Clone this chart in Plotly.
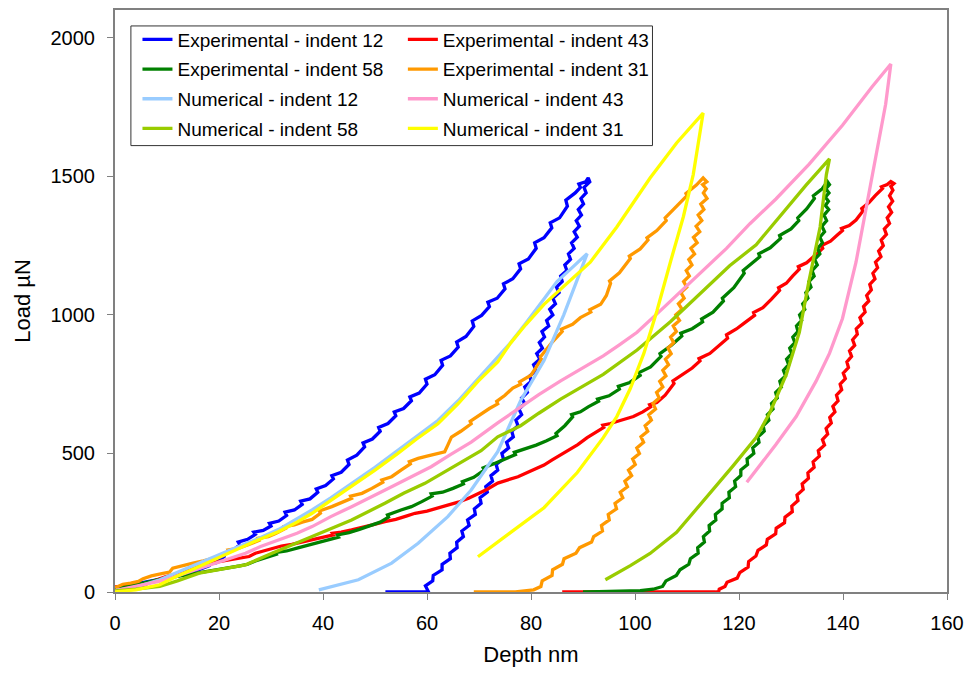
import plotly.graph_objects as go

# ---- Experimental load-depth curves (loading branch followed by unloading branch) ----
exp12_depth = [0, 2, 4, 6, 8, 10, 12, 13.7, 13.5, 16, 18, 17.8, 19.5, 21, 20.8, 22.5, 24, 23.7, 25.5, 27, 26.7, 28.5,
               30, 29.7, 31.5, 33, 32.7, 34.5, 36, 35.7, 37.5, 39, 38.7, 40.5, 42, 41.7, 43.5, 45, 44.7, 46.5, 48, 47.7,
               49.5, 51, 50.7, 52.5, 54, 53.7, 55.5, 57, 56.7, 58.5, 60, 59.7, 61.5, 63, 62.7, 64.5, 66, 65.7, 67.5, 69,
               68.7, 70.5, 72, 71.7, 73.5, 75, 74.7, 76.5, 78, 77.7, 79.5, 81, 80.7, 82.5, 84, 83.7, 85.5, 87, 86.7,
               88.5, 89.5, 89.2, 90.5, 91,
               91.3, 90.2, 90.6, 89.6, 90.1, 89.1, 89.7, 88.7, 89.3, 88.3, 88.9, 87.8, 88.3, 87.2, 87.6, 86.5, 86.9,
               85.7, 86.0, 84.9, 85.4, 84.2, 84.7, 83.6, 84.2, 83.0, 83.4, 82.1, 82.6, 81.6, 82.2, 81.1, 81.7, 80.5,
               81.0, 79.8, 80.0, 78.8, 79.3, 78.2, 78.8, 77.7, 78.2, 77.1, 77.5, 76.3, 76.6, 75.3, 75.7, 74.4, 74.7,
               73.3, 73.6, 72.3, 72.6, 71.3, 71.6, 70.2, 70.4, 69.1, 69.3, 67.8, 68.1, 66.7, 67.0, 65.7, 65.8, 64.4,
               64.5, 62.9, 62.9, 61.2, 61.1, 59.7, 60.1, 60.3, 56, 52]
exp12_load = [15, 22, 30, 36, 42, 48, 58, 64, 72, 80, 94, 100, 106, 128, 138, 148, 170, 180, 190, 208, 216, 222,
              238, 248, 256, 276, 288, 296, 316, 328, 336, 360, 372, 384, 408, 420, 432, 460, 476, 494, 524, 538,
              552, 580, 594, 608, 636, 650, 662, 690, 704, 718, 750, 768, 784, 818, 836, 852, 884, 902, 922, 958,
              978, 998, 1030, 1046, 1060, 1094, 1112, 1130, 1166, 1184, 1202, 1240, 1260, 1278, 1314, 1332, 1350,
              1392, 1414, 1440, 1460, 1472, 1480, 1494,
              1480, 1460, 1440, 1420, 1400, 1380, 1360, 1340, 1320, 1300, 1280, 1260, 1240, 1220, 1200, 1180, 1160,
              1140, 1120, 1100, 1080, 1060, 1040, 1020, 1000, 980, 960, 940, 920, 900, 880, 860, 840, 820, 800, 780,
              760, 740, 720, 700, 680, 660, 640, 620, 600, 580, 560, 540, 520, 500, 480, 460, 440, 420, 400, 380,
              360, 340, 320, 300, 280, 260, 240, 220, 200, 180, 160, 140, 120, 100, 80, 60, 40, 22, 10, 0, 0, 0]

exp43_depth = [0, 2, 4, 5.4, 7.5, 9.8, 12, 14, 16, 18.1, 20, 22, 24, 25.8, 27, 28.5, 30.2, 32, 34, 36, 37.9, 40, 42,
               41.8, 43.5, 45.5, 47.5, 49.5, 51.9, 54, 56, 57.7, 60, 62, 64, 66, 68, 69.8, 71.5, 73.6, 75.5, 77.5,
               79.3, 81, 82.5, 84, 85.7, 87.5, 89, 90.8, 92.5, 94, 93.8, 95.3, 97, 98.5, 99.7, 101.5, 103, 102.8,
               104.2, 105.8, 107.5, 107.3, 109.3, 111, 112.5, 112.3, 114.4, 116, 117.8, 117.6, 119.5, 121, 123, 122.8,
               124.6, 126.2, 127.8, 127.6, 129.1, 130.3, 131.6, 131.4, 133, 134.6, 136.1, 135.9, 137.6, 138.8, 139.9,
               139.7, 141.2, 142.5, 143.8, 143.6, 145, 146.2, 147.6, 147.4, 148.5, 149.2, 149.8, 149.2, 149.6,
               148.95, 149.55, 148.75, 149.35, 148.5, 148.95, 147.95, 148.35, 147.35, 147.75, 146.85, 147.3, 146.25,
               146.65, 145.75, 146.15, 145.15, 145.45, 144.55, 144.95, 143.95, 144.25, 143.25, 143.65, 142.55,
               142.75, 141.85, 142.25, 141.25, 141.65, 140.75, 141.05, 140.05, 140.45, 139.45, 139.75, 138.75,
               139.05, 138.05, 138.45, 137.45, 137.75, 136.75, 137.05, 136.05, 136.45, 135.25, 135.45, 134.25,
               134.45, 133.25, 133.35, 132.15, 132.35, 131.15, 131.35, 130.15, 130.25, 128.85, 128.75, 127.15,
               127.05, 125.45, 125.25, 123.65, 123.25, 121.85, 121.75, 120.15, 119.65, 117.7, 117.3, 116.2, 116.1,
               115.5, 110, 105, 100, 95, 90, 86]
exp43_load = [18, 20, 21, 24, 40, 56, 66, 78, 92, 104, 110, 116, 122, 128, 140, 148, 158, 166, 172, 180, 188, 196,
              206, 212, 216, 224, 232, 242, 254, 262, 274, 284, 292, 302, 314, 324, 338, 354, 370, 393, 404, 416,
              431, 446, 458, 476, 494, 514, 532, 557, 576, 594, 602, 608, 618, 626, 633, 650, 668, 676, 684, 710,
              752, 762, 785, 808, 834, 842, 861, 886, 916, 928, 949, 970, 998, 1008, 1026, 1056, 1088, 1098, 1114,
              1140, 1165, 1174, 1188, 1214, 1240, 1250, 1266, 1286, 1304, 1312, 1322, 1342, 1374, 1384, 1405,
              1430, 1456, 1462, 1470, 1481, 1474, 1464, 1450,
              1430, 1410, 1390, 1370, 1350, 1330, 1310, 1290, 1270, 1250, 1230, 1210, 1190, 1170, 1150, 1130,
              1110, 1090, 1070, 1050, 1030, 1010, 990, 970, 950, 930, 910, 890, 870, 850, 830, 810, 790, 770, 750,
              730, 710, 690, 670, 650, 630, 610, 590, 570, 550, 530, 510, 490, 470, 450, 430, 410, 390, 370, 350,
              330, 310, 290, 270, 250, 230, 210, 190, 170, 150, 130, 110, 90, 70, 50, 35, 20, 10, 2,
              0, 0, 0, 0, 0, 0, 0]

exp58_depth = [0, 2, 4, 5.4, 7.5, 9.8, 12, 14, 16, 18, 20, 22, 24, 25.5, 27, 29, 31, 30.8, 33, 35, 37, 39, 41, 43,
               42.8, 45, 47, 49, 51, 52.6, 52.4, 55, 57, 59, 61, 60.8, 63, 65, 67, 66.8, 69, 71, 70.8, 73, 75, 77,
               76.8, 79, 81, 83, 85, 84.8, 86.5, 88, 87.8, 89.5, 91, 93, 92.8, 95, 97, 96.8, 99, 101, 100.8, 103,
               105, 104.8, 107, 109, 108.8, 111, 113, 112.8, 115, 117, 116.8, 119, 121, 120.8, 122.5, 124, 123.8,
               126, 128, 127.8, 130, 131.5, 131.3, 133, 134.5, 134.3, 136, 137,
               137.4, 136.7, 137.3, 136.6, 137.2, 136.6,
               137.25, 136.35, 136.85, 135.95, 136.45, 135.55, 136.05, 135.15, 135.55, 134.55, 135.05, 134.05,
               134.45, 133.45, 133.85, 132.85, 133.25, 132.25, 132.65, 131.65, 132.05, 131.05, 131.35, 130.35,
               130.75, 129.75, 130.15, 129.15, 129.55, 128.55, 128.95, 127.85, 128.15, 127.05, 127.35, 126.25,
               126.55, 125.45, 125.75, 124.65, 124.85, 123.65, 123.85, 122.65, 122.85, 121.55, 121.65, 120.35,
               120.35, 119.15, 119.35, 118.05, 118.15, 116.75, 116.75, 115.45, 115.55, 114.25, 114.35, 113.15,
               113.35, 112.05, 112.15, 110.65, 110.35, 108.65, 107.95, 105.95, 105.3, 103.5, 101, 97, 93, 90]
exp58_load = [10, 18, 26, 32, 42, 50, 56, 63, 70, 76, 82, 88, 94, 100, 112, 124, 136, 142, 148, 158, 168, 176, 185,
              198, 206, 214, 226, 238, 252, 270, 278, 296, 308, 326, 346, 354, 360, 374, 390, 398, 414, 440, 448,
              464, 480, 496, 504, 516, 530, 546, 564, 572, 600, 632, 640, 650, 668, 688, 696, 708, 732, 742, 756,
              782, 792, 812, 850, 860, 890, 924, 934, 950, 975, 985, 1010, 1050, 1060, 1098, 1150, 1160, 1185,
              1210, 1220, 1242, 1276, 1286, 1310, 1340, 1350, 1382, 1420, 1430, 1455, 1481,
              1470, 1455, 1440, 1425, 1410, 1395,
              1380, 1360, 1340, 1320, 1300, 1280, 1260, 1240, 1220, 1200, 1180, 1160, 1140, 1120, 1100, 1080,
              1060, 1040, 1020, 1000, 980, 960, 940, 920, 900, 880, 860, 840, 820, 800, 780, 760, 740, 720, 700,
              680, 660, 640, 620, 600, 580, 560, 540, 520, 500, 480, 460, 440, 420, 400, 380, 360, 340, 320, 300,
              280, 260, 240, 220, 200, 180, 160, 140, 120, 100, 80, 60, 40, 20, 10, 5, 2, 1, 0]

exp31_depth = [0, 1.5, 3, 4.5, 5.4, 7, 9, 10.5, 11.1, 13, 15, 17, 19, 20.5, 22, 21.8, 23.8, 25.5, 27.7, 27.5, 29.5,
               31, 32.8, 32.6, 34.5, 36, 37.9, 39.5, 39.3, 41.7, 43.5, 45.5, 45.3, 47.5, 49.4, 51.5, 51.3, 53.2, 55,
               56.8, 56.6, 58.3, 60, 62, 63.4, 64, 64.7, 66.5, 68.5, 68.3, 70.5, 72, 73.6, 73.4, 75, 76.5, 78, 77.8,
               80, 82, 81.8, 84, 86, 85.8, 88, 89.5, 91.5, 91.3, 93.4, 94.5, 95.3, 95.1, 97, 99.1, 98.9, 101, 102.5,
               102.3, 104.2, 106, 105.8, 108, 110, 109.8, 111.8, 113.1,
               113.8, 113.0, 113.7,
               113.15, 113.85, 112.65, 113.25, 112.15, 112.85, 111.75, 112.45, 111.25, 111.95, 110.75, 111.45,
               110.35, 110.95, 109.85, 110.45, 109.35, 109.95, 108.85, 109.45, 108.35, 109.05, 107.85, 108.55,
               107.35, 107.95, 106.85, 107.45, 106.35, 106.95, 105.85, 106.45, 105.35, 105.95, 104.75, 105.35,
               104.15, 104.65, 103.45, 103.95, 102.65, 103.15, 101.95, 102.45, 101.15, 101.65, 100.35, 100.85,
               99.55, 100.05, 98.75, 99.35, 98.05, 98.55, 97.15, 97.65, 96.15, 96.45, 94.85, 95.05, 93.55, 93.75,
               92.05, 91.65, 89.35, 88.65, 86.35, 86.05, 84.15, 84.05, 82.15, 81.9, 80.5, 78.5, 77.0, 73, 69]
exp31_load = [15, 28, 32, 38, 48, 58, 66, 72, 86, 96, 104, 112, 122, 134, 146, 152, 158, 170, 186, 194, 200, 212,
              230, 236, 242, 252, 262, 284, 292, 308, 322, 338, 346, 356, 374, 396, 404, 416, 440, 462, 470, 482,
              490, 498, 506, 530, 559, 580, 607, 616, 644, 662, 679, 688, 710, 736, 750, 758, 782, 840, 848, 900,
              940, 948, 966, 990, 1010, 1018, 1038, 1070, 1114, 1122, 1152, 1203, 1212, 1238, 1270, 1278, 1304,
              1340, 1350, 1393, 1430, 1438, 1468, 1494,
              1480, 1470, 1455,
              1440, 1420, 1400, 1380, 1360, 1340, 1320, 1300, 1280, 1260, 1240, 1220, 1200, 1180, 1160, 1140,
              1120, 1100, 1080, 1060, 1040, 1020, 1000, 980, 960, 940, 920, 900, 880, 860, 840, 820, 800, 780, 760,
              740, 720, 700, 680, 660, 640, 620, 600, 580, 560, 540, 520, 500, 480, 460, 440, 420, 400, 380, 360,
              340, 320, 300, 280, 260, 240, 220, 200, 180, 160, 140, 120, 100, 80, 60, 40, 20, 8, 2, 0, 0, 0]

# ---- Numerical (simulated) load-depth curves ----
num12_depth = [0, 4, 8.6, 12, 16.2, 20, 23.8, 27.5, 31.5, 35, 37.9, 41.5, 45.5, 50, 54.4, 58, 62.1, 66, 69.8, 73.6,
               76.1, 79, 82.5, 85, 87.6, 90.8,
               90.2, 88.9, 86.3, 82.5, 78, 73.6, 68.5, 64, 58.3, 53.2, 46.8, 39.2]
num12_load = [5, 18, 44, 70, 104, 134, 164, 192, 226, 264, 296, 340, 392, 450, 511, 560, 619, 690, 770, 848, 900,
              970, 1060, 1120, 1165, 1221,
              1191, 1126, 1000, 835, 690, 506, 368, 272, 176, 104, 44, 8]

num43_depth = [0, 4, 9.8, 13.5, 17.5, 21, 25.1, 28, 31.5, 35, 37.9, 41.5, 45.5, 49.5, 53.2, 57, 60.8, 64.5, 68.5,
               73.6, 77.4, 81.5, 85.7, 89.8, 93.9, 97, 100.4, 105.5, 111.2, 117.6, 122.1, 127.1, 133.5, 139.9,
               145.6, 149.2,
               148.2, 146.3, 144.4, 142.5, 139.9, 137.4, 134.8, 131, 127.1, 121.5]
num43_load = [5, 20, 44, 68, 92, 116, 140, 164, 188, 212, 236, 272, 308, 344, 380, 416, 452, 496, 541, 610, 660,
              712, 762, 808, 852, 892, 937, 1026, 1127, 1240, 1329, 1418, 1544, 1684, 1823, 1905,
              1760, 1570, 1380, 1190, 987, 861, 760, 633, 532, 396]

num58_depth = [0, 4, 8.6, 12, 16.2, 20, 25.1, 30.2, 34, 37.9, 41.5, 45.5, 51.9, 55.5, 59.6, 63.5, 67.2, 70.4, 73.6,
               78, 81.5, 85.7, 93.9, 100.4, 106.8, 111.8, 118.2, 123.3, 128.4, 132.9, 137.4,
               136.8, 135.6, 133.5, 131.6, 129.1, 125.9, 123.3, 118.9, 113.1, 108, 102.9, 99.1, 94.3]
num58_load = [4, 10, 20, 40, 68, 82, 98, 140, 170, 200, 230, 260, 320, 356, 392, 434, 476, 510, 560, 600, 645, 696,
              785, 873, 975, 1063, 1177, 1253, 1367, 1468, 1563,
              1506, 1317, 1126, 937, 785, 646, 557, 456, 329, 215, 139, 95, 44]

num31_depth = [0, 4, 8.6, 12, 16.2, 20, 23.8, 27.5, 31.5, 35, 37.9, 41.5, 45.5, 50, 54.4, 58, 62.1, 66, 69.8, 73.6,
               76.1, 79, 82.5, 87, 91.4, 96.5, 102.9, 108, 113.1,
               111.2, 109.3, 106.8, 104.2, 101.7, 99.1, 96.5, 93.9, 88.9, 82.5, 76.1, 69.8]
num31_load = [0, 8, 26, 58, 92, 124, 158, 188, 218, 252, 284, 330, 380, 440, 500, 552, 607, 680, 760, 830, 899, 965,
              1038, 1115, 1190, 1317, 1494, 1620, 1728,
              1506, 1354, 1190, 1013, 861, 734, 633, 557, 431, 304, 215, 127]

series_names = ["Experimental - indent 12", "Experimental - indent 43", "Experimental - indent 58",
                "Experimental - indent 31", "Numerical - indent 12", "Numerical - indent 43",
                "Numerical - indent 58", "Numerical - indent 31"]
series_depth = [exp12_depth, exp43_depth, exp58_depth, exp31_depth, num12_depth, num43_depth, num58_depth, num31_depth]
series_load = [exp12_load, exp43_load, exp58_load, exp31_load, num12_load, num43_load, num58_load, num31_load]
series_colors = ["#0000FF", "#FF0000", "#008000", "#FF9900", "#99CCFF", "#FF99CC", "#99CC00", "#FFFF00"]
# two legend columns: left column holds indents 12 and 58, right column holds 43 and 31
series_legend = ["legend", "legend2", "legend", "legend2", "legend", "legend2", "legend", "legend2"]

FONT = "Liberation Sans, Arial, sans-serif"

fig = go.Figure()
for i, name in enumerate(series_names):
    fig.add_trace(go.Scatter(
        x=series_depth[i], y=series_load[i], name=name, mode="lines",
        line=dict(color=series_colors[i], width=3.3),
        legend=series_legend[i], legendgroup=name,
    ))

legend_common = dict(
    xanchor="left", yanchor="top", bgcolor="rgba(0,0,0,0)", borderwidth=0,
    font=dict(family=FONT, size=19, color="#000000"), tracegroupgap=2, itemwidth=30,
)

fig.update_layout(
    width=972, height=679,
    margin=dict(l=115, r=21, t=8, b=87),
    paper_bgcolor="white", plot_bgcolor="white",
    font=dict(family=FONT, color="#000000"),
    showlegend=True,
    legend=dict(x=0.027, y=0.982, **legend_common),
    legend2=dict(x=0.346, y=0.982, **legend_common),
    shapes=[dict(type="rect", xref="paper", yref="paper", x0=0.0191, x1=0.646, y0=0.767, y1=0.9726,
                 line=dict(color="#333333", width=1), fillcolor="rgba(0,0,0,0)", layer="above")],
    xaxis=dict(
        range=[0, 160], tick0=0, dtick=20, showgrid=False, zeroline=False,
        showline=True, linecolor="#808080", linewidth=2, mirror=True,
        ticks="outside", ticklen=6, tickcolor="#808080", tickwidth=1,
        tickfont=dict(family=FONT, size=20), ticklabelstandoff=6,
        title=dict(text="Depth nm", font=dict(family=FONT, size=22), standoff=14),
    ),
    yaxis=dict(
        range=[0, 2100], tickvals=[0, 500, 1000, 1500, 2000], showgrid=False, zeroline=False,
        showline=True, linecolor="#808080", linewidth=2, mirror=True,
        ticks="outside", ticklen=6, tickcolor="#808080", tickwidth=1,
        tickfont=dict(family=FONT, size=20), ticklabelstandoff=8,
        title=dict(text="Load µN", font=dict(family=FONT, size=22), standoff=14),
    ),
)

fig.write_html("out.html")
